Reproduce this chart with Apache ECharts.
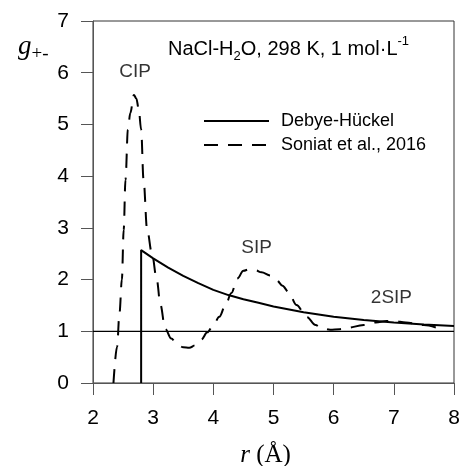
<!DOCTYPE html>
<html>
<head>
<meta charset="utf-8">
<script src="https://cdn.jsdelivr.net/npm/echarts@6/dist/echarts.min.js"></script>
<style>html,body{margin:0;padding:0;background:#fff;}#c{width:462px;height:466px;}</style>
</head>
<body>
<div id="c"></div>
<script>
// Debye-Hückel curve (r in Å, g+-)
const dhR = [2.8, 2.8, 3.0, 3.25, 3.5, 3.75, 4.0, 4.25, 4.5, 4.75, 5.0, 5.5, 6.0, 6.5, 7.0, 7.5, 8.0];
const dhG = [0, 2.57, 2.41, 2.23, 2.07, 1.93, 1.80, 1.70, 1.62, 1.55, 1.48, 1.37, 1.28, 1.22, 1.17, 1.13, 1.10];
// Soniat et al., 2016
const snR = [2.34, 2.40, 2.44, 2.48, 2.51, 2.54, 2.58, 2.62, 2.68, 2.72, 2.76, 2.80, 2.84, 2.90, 2.98, 3.06, 3.12, 3.20, 3.30, 3.40, 3.50, 3.60, 3.70, 3.80, 3.90, 4.00, 4.10, 4.20, 4.30, 4.40, 4.50, 4.60, 4.70, 4.80, 4.95, 5.05, 5.15, 5.25, 5.38, 5.55, 5.70, 5.80, 5.94, 6.10, 6.20, 6.50, 6.70, 6.88, 7.00, 7.20, 7.50, 7.78];
const snG = [0.0, 0.70, 1.35, 2.0, 2.96, 3.93, 4.9, 5.22, 5.57, 5.5, 5.3, 4.9, 3.93, 2.96, 2.5, 2.0, 1.52, 1.05, 0.86, 0.75, 0.69, 0.68, 0.73, 0.84, 0.98, 1.12, 1.28, 1.50, 1.74, 2.02, 2.17, 2.20, 2.18, 2.14, 2.08, 1.99, 1.88, 1.76, 1.51, 1.28, 1.12, 1.06, 1.03, 1.04, 1.06, 1.12, 1.17, 1.20, 1.20, 1.17, 1.12, 1.04];
// reference line g = 1
const refR = [2, 8];
const refG = [1, 1];
// peak annotations
const annR = [2.70, 4.72, 6.96];
const annG = [6.02, 2.61, 1.64];
const annText = ['CIP', 'SIP', '2SIP'];
// axis ticks
const xTicks = [2, 3, 4, 5, 6, 7, 8];
const yTicks = [0, 1, 2, 3, 4, 5, 6, 7];

const zip = (a, b) => a.map((v, i) => [v, b[i]]);
const SANS = 'Liberation Sans, Arial, sans-serif';
const SERIF = 'Liberation Serif, Times New Roman, serif';
const axisCol = '#555';

const chart = echarts.init(document.getElementById('c'), null, {renderer: 'canvas'});
chart.setOption({
  animation: false,
  backgroundColor: '#fff',
  title: {
    text: 'NaCl-H{sub|2}O, 298 K, 1 mol·L{sup|-1}',
    left: 163, top: 30,
    textStyle: {
      fontFamily: SANS, fontSize: 20, fontWeight: 'normal', color: '#000', lineHeight: 28,
      rich: {
        sub: {fontFamily: SANS, fontSize: 13, lineHeight: 12, verticalAlign: 'bottom', color: '#000'},
        sup: {fontFamily: SANS, fontSize: 13, lineHeight: 12, verticalAlign: 'top', color: '#000'}
      }
    }
  },
  legend: {
    data: ['Debye-Hückel', 'Soniat et al., 2016'],
    orient: 'vertical',
    left: 198, top: 107,
    itemWidth: 65, itemHeight: 18, itemGap: 6,
    itemStyle: {opacity: 0},
    textStyle: {fontFamily: SANS, fontSize: 18, color: '#000', lineHeight: 18, padding: [0, 0, 0, 7]}
  },
  grid: {left: 93, right: 8, top: 21, bottom: 83, show: true, borderColor: '#333', borderWidth: 1,
    containLabel: false, outerBoundsMode: 'none'},
  xAxis: {
    type: 'value', min: xTicks[0], max: xTicks[xTicks.length - 1], interval: 1,
    name: '{i|r} (Å)', nameLocation: 'middle', nameGap: 60,
    nameTextStyle: {fontFamily: SERIF, fontSize: 25, color: '#000', padding: [0, 16, 0, 0],
      rich: {i: {fontFamily: SERIF, fontStyle: 'italic', fontSize: 25, color: '#000'}}},
    axisLine: {show: true, lineStyle: {color: axisCol, width: 1}},
    axisTick: {show: true, inside: false, length: 12, lineStyle: {color: axisCol}},
    axisLabel: {fontFamily: SANS, fontSize: 21, color: '#000', margin: 25},
    splitLine: {show: false}
  },
  yAxis: {
    type: 'value', min: yTicks[0], max: yTicks[yTicks.length - 1], interval: 1,
    axisLine: {show: true, lineStyle: {color: axisCol, width: 1}},
    axisTick: {show: true, inside: false, length: 12, lineStyle: {color: axisCol}},
    axisLabel: {fontFamily: SANS, fontSize: 21, color: '#000', margin: 24},
    splitLine: {show: false}
  },
  graphic: [{
    type: 'text', left: 18, top: 33,
    style: {
      text: '{g|g}{s|+-}',
      rich: {
        g: {fontFamily: SERIF, fontStyle: 'italic', fontSize: 27, fill: '#000', verticalAlign: 'bottom'},
        s: {fontFamily: SERIF, fontSize: 19, fill: '#000', verticalAlign: 'bottom', padding: [0, 0, -4, 0]}
      }
    }
  }],
  series: [
    {
      name: 'ref', type: 'line', data: zip(refR, refG), symbol: 'none', silent: true,
      lineStyle: {color: '#000', width: 1.3}, z: 1
    },
    {
      name: 'Debye-Hückel', type: 'line', data: zip(dhR, dhG), symbol: 'none', smooth: false,
      lineStyle: {color: '#000', width: 2}, itemStyle: {color: '#000'}, z: 3
    },
    {
      name: 'Soniat et al., 2016', type: 'line', data: zip(snR, snG), symbol: 'none',
      smooth: 0.35, smoothMonotone: 'x',
      lineStyle: {color: '#000', width: 2, type: [14, 10]}, itemStyle: {color: '#000'}, z: 3
    },
    {
      name: 'labels', type: 'scatter', symbolSize: 0, silent: true,
      data: annR.map((r, i) => ({value: [r, annG[i]], name: annText[i]})),
      label: {show: true, position: 'inside', formatter: p => p.name,
        fontFamily: SANS, fontSize: 19, color: '#000'},
      z: 4
    }
  ]
});
</script>
</body>
</html>
